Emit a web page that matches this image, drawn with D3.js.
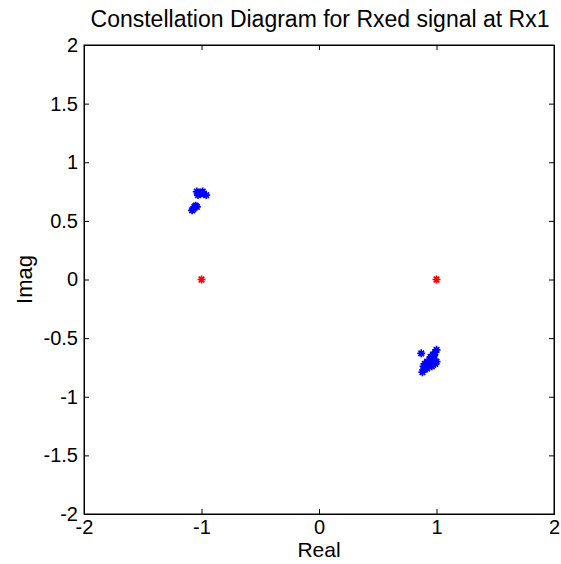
<!DOCTYPE html>
<html><head><meta charset="utf-8">
<script src="https://cdn.jsdelivr.net/npm/d3@7/dist/d3.min.js"></script>
<style>body{margin:0;background:#fff}svg{display:block}text{font-family:"Liberation Sans",Arial,sans-serif}</style>
</head><body>
<script>
const title = "Constellation Diagram for Rxed signal at Rx1";
const xTicks = [-2, -1, 0, 1, 2];
const yTicks = [-2, -1.5, -1, -0.5, 0, 0.5, 1, 1.5, 2];
const rxReal = [-1.04,-1.02,-1.00,-0.98,-0.96,-1.03,-1.01,-0.99,-1.05,-1.07,-1.08,-1.04,-1.06,
  0.87,0.88,0.89,0.90,0.91,0.92,0.93,0.94,0.95,0.96,0.97,0.98,0.99,1.00,1.00,0.99,0.96,0.90,0.89,0.95,0.97,0.92,0.98];
const rxImag = [0.75,0.74,0.74,0.73,0.72,0.72,0.73,0.75,0.63,0.60,0.59,0.62,0.62,
  -0.63,-0.79,-0.77,-0.75,-0.73,-0.76,-0.71,-0.72,-0.69,-0.67,-0.70,-0.65,-0.62,-0.60,-0.70,-0.72,-0.74,-0.72,-0.74,-0.66,-0.64,-0.70,-0.68];
const refReal = [-1, 1];
const refImag = [0, 0];

const W = 561, H = 564;
const m = {l:84, r:7, t:45, b:50};
const svg = d3.select("body").append("svg").attr("width", W).attr("height", H);
const x = d3.scaleLinear().domain([-2, 2]).range([m.l, W - m.r]);
const y = d3.scaleLinear().domain([-2, 2]).range([H - m.b, m.t]);

const fmt = d => String(d);
const tl = 5;
svg.append("rect").attr("x", x(-2)).attr("y", y(2)).attr("width", x(2)-x(-2)).attr("height", y(-2)-y(2))
  .attr("fill", "#fff").attr("stroke", "#000").attr("stroke-width", 1);
const gx = svg.append("g").attr("transform", `translate(0,${y(-2)})`)
  .call(d3.axisBottom(x).tickValues(xTicks).tickSize(-tl).tickPadding(6).tickFormat(fmt));
const gxt = svg.append("g").attr("transform", `translate(0,${y(2)})`)
  .call(d3.axisTop(x).tickValues(xTicks).tickSize(-tl).tickFormat(""));
const gy = svg.append("g").attr("transform", `translate(${x(-2)},0)`)
  .call(d3.axisLeft(y).tickValues(yTicks).tickSize(-tl).tickPadding(6).tickFormat(fmt));
const gyr = svg.append("g").attr("transform", `translate(${x(2)},0)`)
  .call(d3.axisRight(y).tickValues(yTicks).tickSize(-tl).tickFormat(""));
[gx, gxt, gy, gyr].forEach(g => {
  g.select(".domain").attr("stroke", "#000");
  g.selectAll(".tick line").attr("stroke", "#000");
  g.selectAll("text").attr("font-size", 20).attr("fill", "#000")
   .attr("font-family", '"Liberation Sans",Arial,sans-serif');
});

const star = (g, xs, ys, color) => {
  const s = 4;
  const p = `M${-s},0L${s},0M0,${-s}L0,${s}M${-s*0.7},${-s*0.7}L${s*0.7},${s*0.7}M${-s*0.7},${s*0.7}L${s*0.7},${-s*0.7}`;
  g.selectAll(null).data(xs.map((v,i)=>[v, ys[i]])).enter().append("path")
    .attr("transform", d => `translate(${x(d[0])},${y(d[1])})`)
    .attr("d", p).attr("stroke", color).attr("stroke-width", 1.7).attr("fill", "none");
};
star(svg.append("g"), rxReal, rxImag, "#0000ff");
star(svg.append("g"), refReal, refImag, "#ff0000");

svg.append("text").attr("x", 320).attr("y", 27).attr("text-anchor", "middle")
  .attr("font-size", 23).text(title);
svg.append("text").attr("x", (x(-2)+x(2))/2).attr("y", 557).attr("text-anchor", "middle")
  .attr("font-size", 21).text("Real");
svg.append("text").attr("transform", `translate(32,${(y(-2)+y(2))/2}) rotate(-90)`).attr("text-anchor", "middle")
  .attr("font-size", 22).text("Imag");
</script>
</body></html>
